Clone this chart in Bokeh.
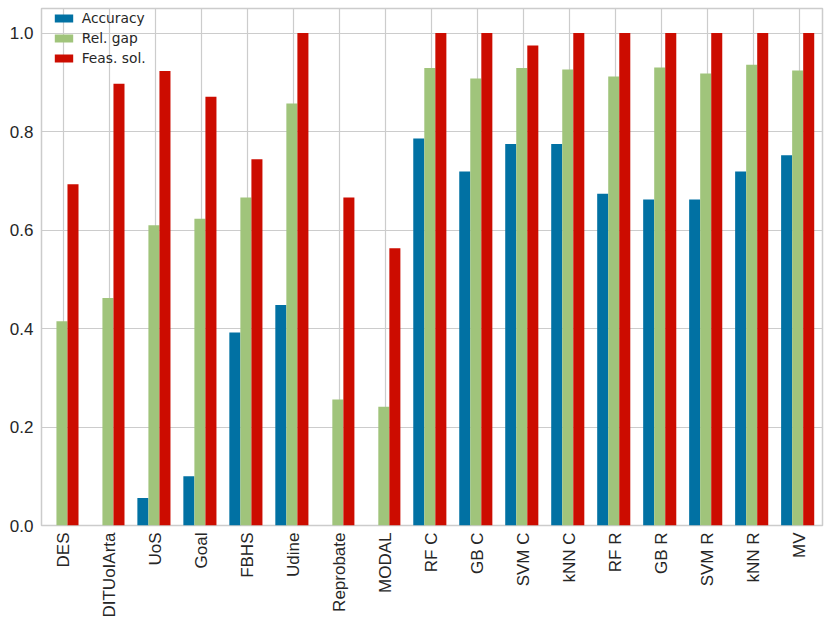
import math
from bokeh.plotting import figure
from bokeh.models import Range1d, FixedTicker, ColumnDataSource, Legend, LegendItem
from bokeh.embed import file_html
from bokeh.resources import INLINE

categories = ["DES", "DITUoIArta", "UoS", "Goal", "FBHS", "Udine", "Reprobate", "MODAL",
              "RF C", "GB C", "SVM C", "kNN C", "RF R", "GB R", "SVM R", "kNN R", "MV"]
accuracy = [0.0, 0.0, 0.056, 0.100, 0.392, 0.448, 0.0, 0.0,
            0.786, 0.719, 0.775, 0.775, 0.674, 0.662, 0.662, 0.719, 0.752]
rel_gap = [0.415, 0.462, 0.610, 0.623, 0.666, 0.857, 0.256, 0.241,
           0.929, 0.908, 0.929, 0.926, 0.912, 0.930, 0.918, 0.936, 0.924]
feas_sol = [0.693, 0.897, 0.923, 0.871, 0.744, 1.0, 0.666, 0.563,
            1.0, 1.0, 0.975, 1.0, 1.0, 1.0, 1.0, 1.0, 1.0]
series_names = ["Accuracy", "Rel. gap", "Feas. sol."]
y_ticks = [0.0, 0.2, 0.4, 0.6, 0.8, 1.0]

colors = ["#0171A3", "#A0C47B", "#CC0C00"]
offsets = [-0.28, -0.04, 0.20]
bar_w = 0.24

top_b = 8
frame_h = 517
H = 622
p = figure(width=828, height=H, output_backend="svg", toolbar_location=None,
           x_range=Range1d(-0.485, 16.50), y_range=Range1d(0, 1.05),
           min_border_left=41, min_border_right=6, min_border_top=top_b,
           min_border_bottom=H - frame_h - top_b)
p.background_fill_color = "white"
p.border_fill_color = "white"
p.outline_line_color = "#cccccc"
p.outline_line_width = 1.5

xs = list(range(len(categories)))
renderers = []
for vals, col, off in zip([accuracy, rel_gap, feas_sol], colors, offsets):
    src = ColumnDataSource(dict(x=[x + off for x in xs], top=vals))
    r = p.vbar(x="x", top="top", width=bar_w, bottom=0, source=src,
               fill_color=col, line_color=None)
    renderers.append(r)

p.xaxis.ticker = FixedTicker(ticks=xs)
p.xaxis.major_label_overrides = {i: c for i, c in enumerate(categories)}
p.xaxis.major_label_orientation = math.pi / 2
p.yaxis.ticker = FixedTicker(ticks=y_ticks)
p.yaxis.major_label_overrides = {t: f"{t:.1f}" for t in y_ticks}

for ax in [p.xaxis[0], p.yaxis[0]]:
    ax.axis_line_color = None
    ax.major_tick_line_color = None
    ax.minor_tick_line_color = None
    ax.major_tick_out = 0
    ax.major_tick_in = 0
    ax.major_label_text_font = "Liberation Sans"
    ax.major_label_text_font_size = "17px"
    ax.major_label_text_color = "#262626"
    ax.major_label_standoff = 8
p.xaxis.major_label_standoff = 7

p.xgrid.ticker = FixedTicker(ticks=xs)
p.ygrid.ticker = FixedTicker(ticks=y_ticks)
for g in [p.xgrid[0], p.ygrid[0]]:
    g.grid_line_color = "#cccccc"
    g.grid_line_width = 1.2

items = [LegendItem(label=n, renderers=[r]) for n, r in zip(series_names, renderers)]
legend_h = 2 * 2 + 3 * 20
legend = Legend(items=items, location=(8.7, frame_h - legend_h + 2),
                background_fill_alpha=0, border_line_alpha=0,
                glyph_width=23, glyph_height=10, label_height=20, spacing=0,
                padding=2, margin=0, label_standoff=7,
                label_text_font="DejaVu Sans", label_text_font_size="13.8px",
                label_text_color="#262626")
p.add_layout(legend, "center")

open("out.html", "w").write(file_html(p, INLINE))
